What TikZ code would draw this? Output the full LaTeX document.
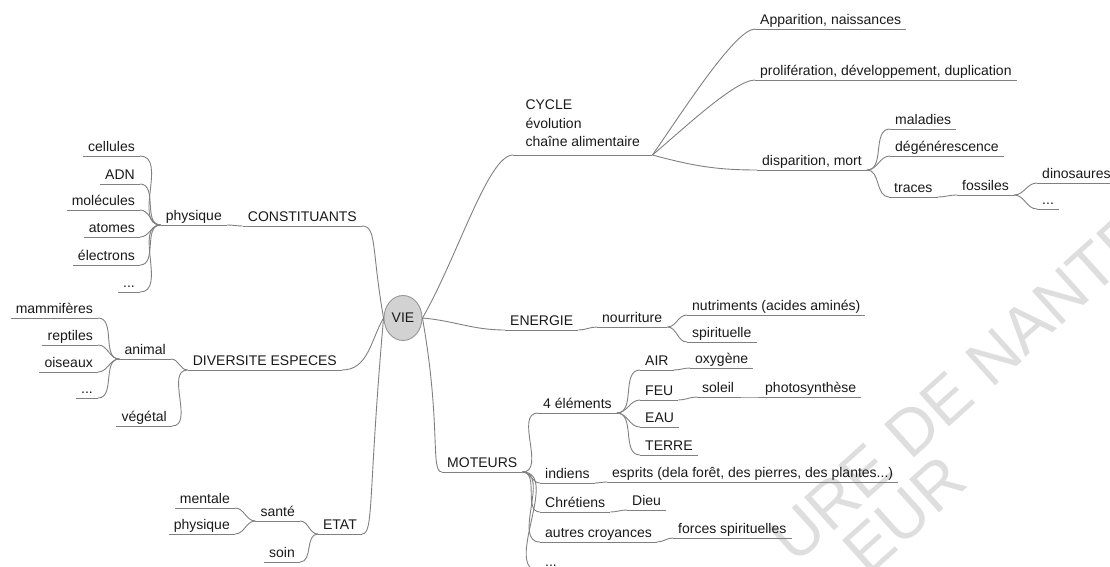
\documentclass[tikz,border=0pt]{standalone}
\usepackage{fontspec}
\setmainfont{Liberation Sans}
\usetikzlibrary{positioning,shapes.geometric}
\definecolor{mmtext}{RGB}{25,25,25}
\definecolor{mmline}{RGB}{128,128,128}
\definecolor{mmfill}{RGB}{210,210,210}
\definecolor{mmring}{RGB}{150,150,150}
\definecolor{mmwater}{RGB}{222,222,222}

\begin{document}
\begin{tikzpicture}[x=1pt, y=1pt,
  tp/.style={inner xsep=5pt, inner ysep=1pt, text height=10pt, text depth=3pt, font=\fontsize{14}{17}\selectfont, text=mmtext},
  rt/.style={tp, anchor=south west},
  lt/.style={tp, anchor=south east},
  br/.style={draw=mmline, line width=0.9pt},
  root/.style={ellipse, draw=mmring, fill=mmfill, line width=0.9pt, minimum width=38pt, minimum height=45pt, inner sep=0pt, font=\fontsize{14}{17}\selectfont, text=mmtext}
]
  \useasboundingbox (0,-567) rectangle (1110,0);

  % watermark
  \begin{scope}
    \clip (0,-567) rectangle (1110,0);
    \node[rotate=42, anchor=west, inner sep=0pt, font=\fontsize{65}{70}\selectfont, text=mmwater] (wma) at (780,-549) {URE DE NANTES};
    \node[rotate=42, anchor=center, inner sep=0pt, font=\fontsize{65}{70}\selectfont, text=mmwater] (wmb) at (905,-515) {EUR};
  \end{scope}

  % centre
  \node[root] (vie) at (403,-318) {VIE};

  % right: cycle
  \node[anchor=south west, align=left, minimum width=139pt, inner xsep=5pt, inner ysep=8pt, font=\fontsize{14}{18.5}\selectfont, text=mmtext] (cyc) at (513,-155) {CYCLE\\évolution\\chaîne alimentaire};
  \node[rt] (app) at (755,-29)  {Apparition, naissances};
  \node[rt] (pro) at (755,-80)  {prolifération, développement, duplication};
  \node[rt] (dis) at (757,-170) {disparition, mort};
  \node[rt] (mal) at (890,-129) {maladies};
  \node[rt] (deg) at (890,-156) {dégénérescence};
  \node[rt] (tra) at (889,-197) {traces};
  \node[rt] (fos) at (957,-195) {fossiles};
  \node[rt] (din) at (1037,-183) {dinosaures};
  \node[rt] (fdt) at (1037,-209) {...};

  % right: energie
  \node[rt] (ene) at (505,-330) {ENERGIE};
  \node[rt] (nou) at (597,-327) {nourriture};
  \node[rt] (nut) at (687,-315) {nutriments (acides aminés)};
  \node[rt] (spi) at (687,-342) {spirituelle};

  % right: moteurs
  \node[rt] (mot) at (442,-472) {MOTEURS};
  \node[rt] (ele) at (538,-413) {4 éléments};
  \node[rt] (air) at (640,-370) {AIR};
  \node[rt] (oxy) at (690,-368) {oxygène};
  \node[rt] (feu) at (640,-400) {FEU};
  \node[rt] (sol) at (697,-397) {soleil};
  \node[rt] (pho) at (760,-397) {photosynthèse};
  \node[rt] (eau) at (640,-427) {EAU};
  \node[rt] (ter) at (640,-455) {TERRE};
  \node[rt] (ind) at (540,-483) {indiens};
  \node[rt] (esp) at (607,-482) {esprits (dela forêt, des pierres, des plantes...)};
  \node[rt] (chr) at (540,-512) {Chrétiens};
  \node[rt] (die) at (627,-510) {Dieu};
  \node[rt] (aut) at (540,-542) {autres croyances};
  \node[rt] (frc) at (673,-538) {forces spirituelles};
  \node[rt] (mdt) at (540,-571) {...};

  % left: constituants
  \node[lt] (con) at (362,-226) {CONSTITUANTS};
  \node[lt] (phy) at (227,-225) {physique};
  \node[lt] (cel) at (140,-156) {cellules};
  \node[lt] (adn) at (140,-184) {ADN};
  \node[lt] (mol) at (140,-210) {molécules};
  \node[lt] (ato) at (140,-237) {atomes};
  \node[lt] (elc) at (140,-265) {électrons};
  \node[lt] (pdt) at (140,-292) {...};

  % left: diversite
  \node[lt] (div) at (342,-370) {DIVERSITE ESPECES};
  \node[lt] (ani) at (171,-359) {animal};
  \node[lt] (veg) at (172,-426) {végétal};
  \node[lt] (mam) at (98,-318) {mammifères};
  \node[lt] (rep) at (98,-345) {reptiles};
  \node[lt] (ois) at (98,-372) {oiseaux};
  \node[lt] (adt) at (98,-398) {...};

  % left: etat
  \node[lt] (eta) at (362,-534) {ETAT};
  \node[lt] (san) at (300,-521) {santé};
  \node[lt] (soi) at (300,-562) {soin};
  \node[lt] (men) at (235,-508) {mentale};
  \node[lt] (phs) at (235,-534) {physique};

  % underlines
  \foreach \n in {cyc,app,pro,dis,mal,deg,tra,fos,din,fdt,ene,nou,nut,spi,mot,ele,air,oxy,feu,sol,pho,eau,ter,ind,esp,chr,die,aut,frc,mdt,con,phy,cel,adn,mol,ato,elc,pdt,div,ani,veg,mam,rep,ois,adt,eta,san,soi,men,phs}
    \draw[br] (\n.south west) -- (\n.south east);

  % branches from the centre
  \draw[br] (vie.east) to[out=60, in=180, out distance=70pt, in distance=25pt] (cyc.south west);
  \draw[br] (vie.east) to[out=-5, in=180] (ene.south west);
  \draw[br] (vie.east) to[out=-80, in=180, out distance=110pt, in distance=12pt] (mot.south west);
  \draw[br] (vie.west) to[out=100, in=0, out distance=70pt, in distance=15pt] (con.south east);
  \draw[br] (vie.west) to[out=-120, in=0] (div.south east);
  \draw[br] (vie.west) to[out=-95, in=0, out distance=180pt, in distance=12pt] (eta.south east);

  % cycle
  \draw[br] (cyc.south east) to[out=55, in=180, out distance=50pt, in distance=20pt] (app.south west);
  \draw[br] (cyc.south east) to[out=40, in=180, out distance=40pt, in distance=20pt] (pro.south west);
  \draw[br] (cyc.south east) to[out=-15, in=180] (dis.south west);

  % right side links
  \foreach \a/\b in {dis/mal,dis/deg,dis/tra,tra/fos,fos/din,fos/fdt,ene/nou,nou/nut,nou/spi,mot/ele,mot/ind,mot/chr,mot/aut,mot/mdt,ele/air,ele/feu,ele/eau,ele/ter,air/oxy,feu/sol,sol/pho,ind/esp,chr/die,aut/frc}
    \draw[br] (\a.south east) to[out=0, in=180] (\b.south west);

  % left side links
  \foreach \a/\b in {con/phy,phy/cel,phy/adn,phy/mol,phy/ato,phy/elc,phy/pdt,div/ani,div/veg,ani/mam,ani/rep,ani/ois,ani/adt,eta/san,eta/soi,san/men,san/phs}
    \draw[br] (\a.south west) to[out=180, in=0] (\b.south east);
\end{tikzpicture}
\end{document}
